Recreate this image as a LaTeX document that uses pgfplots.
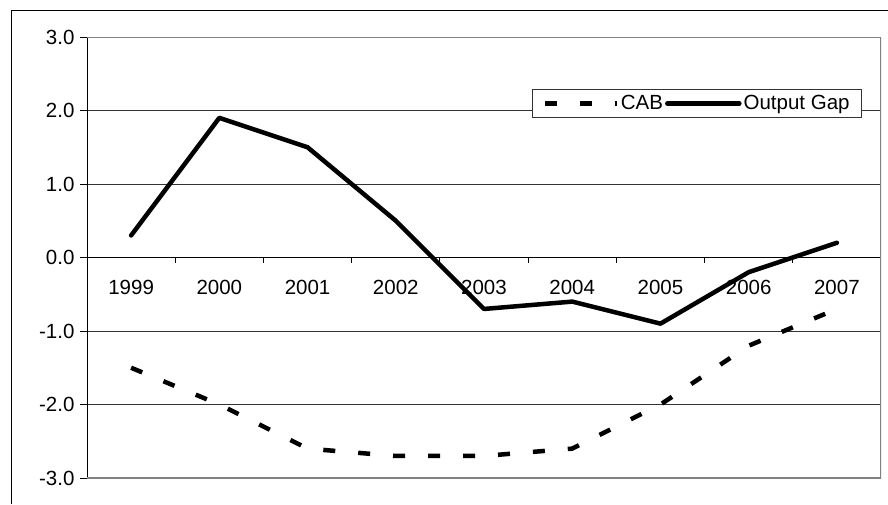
\documentclass[border=0pt]{standalone}
\usepackage{fontspec}
\setmainfont{Liberation Sans}
\usepackage{pgfplots}
\pgfplotsset{compat=1.18}

\begin{document}
\begin{tikzpicture}
\useasboundingbox (0,0) rectangle (888pt,504pt);
% outer chart frame (only left and top edges are visible)
\draw[black, line width=0.9pt] (11pt,0pt) -- (11pt,494pt) -- (888pt,494pt);

\begin{axis}[
  at={(87pt,26pt)}, anchor=south west,
  scale only axis,
  width=794pt, height=441pt,
  xmin=0.5, xmax=9.5,
  ymin=-3, ymax=3,
  axis x line*=middle,
  axis y line*=left,
  axis line style={black, line width=0.9pt},
  tick align=outside,
  major tick length=7pt,
  minor tick length=5pt,
  tick style={black, line width=0.9pt},
  xtick={1,...,9},
  xticklabels={1999,2000,2001,2002,2003,2004,2005,2006,2007},
  major x tick style={draw=none},
  minor xtick={1.5,2.5,...,8.5},
  xticklabel style={anchor=base, yshift=-30pt},
  ytick={-3,-2,-1,0,1,2,3},
  yticklabels={-3.0,-2.0,-1.0,0.0,1.0,2.0,3.0},
  yticklabel style={xshift=-2pt},
  ymajorgrids,
  y grid style={black!80, line width=0.8pt},
  ticklabel style={font=\fontsize{20.5}{24}\selectfont},
  legend columns=2,
  legend style={at={(0.5605,0.882)}, anchor=north west,
    draw=black!80, line width=0.8pt, fill=white,
    inner xsep=10pt, inner ysep=4pt,
    font=\fontsize{20.5}{24}\selectfont,
    /tikz/every even column/.append style={column sep=0pt}},
  legend image code/.code={\draw[#1] (0pt,0pt) -- (72pt,0pt);},
]
\addplot[black, line width=4.5pt, dash pattern=on 12pt off 23pt, line cap=butt]
coordinates {
(1,-1.5) (2,-2.0) (3,-2.6) (4,-2.7) (5,-2.7) (6,-2.6) (7,-2.0) (8,-1.2) (9,-0.7)
};
\addlegendentry{CAB}
\addplot[black, line width=4.5pt, line cap=round, line join=round]
coordinates {
(1,0.3) (2,1.9) (3,1.5) (4,0.5) (5,-0.7) (6,-0.6) (7,-0.9) (8,-0.2) (9,0.2)
};
\addlegendentry{Output Gap}
% plot area frame
\draw[black!50, line width=1.6pt] (rel axis cs:0,1) -- (rel axis cs:1,1) -- (rel axis cs:1,0) -- (rel axis cs:0,0);
\end{axis}
\end{tikzpicture}
\end{document}
